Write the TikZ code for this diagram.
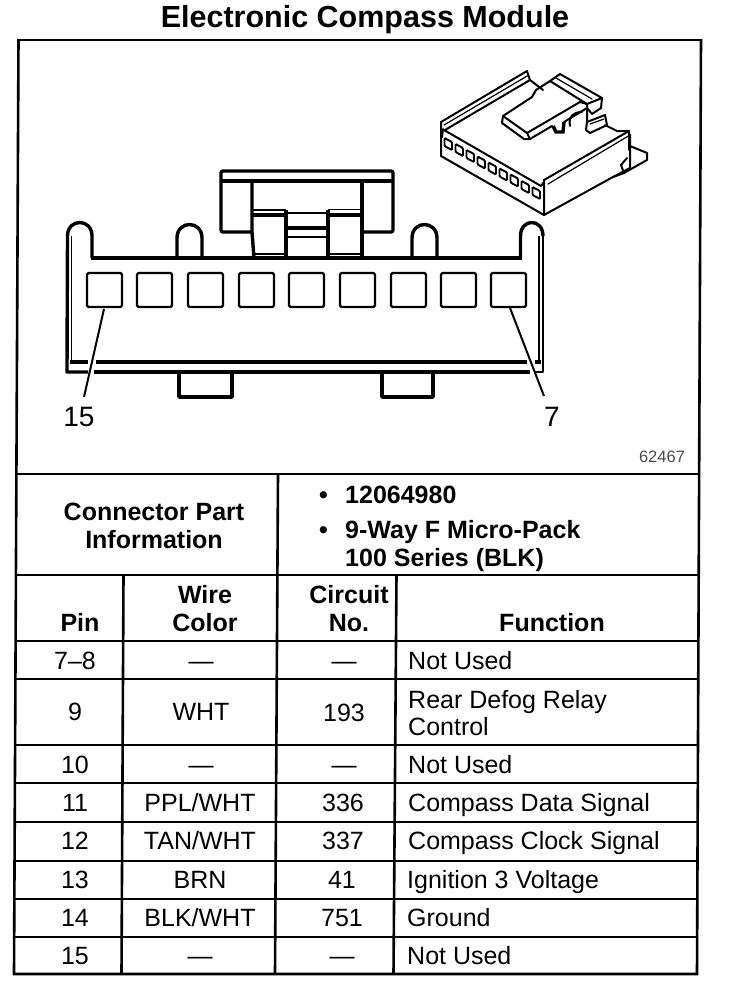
\documentclass[tikz,border=0pt]{standalone}
\usepackage{fontspec}
\setmainfont{Liberation Sans}
\tikzset{
  x=1pt,y=-1pt,
  frameline/.style={line width=2.6pt},
  conn/.style={line width=3.4pt,line join=round},
  connthin/.style={line width=1.8pt,line join=round},
  pinbox/.style={line width=2.4pt,rounded corners=1.5pt},
  leader/.style={line width=2pt},
  iso/.style={line width=2pt,line join=round,line cap=round},
  isothin/.style={line width=1.2pt,line join=round,line cap=round},
  celltxt/.style={inner sep=0pt,anchor=base,font=\fontsize{25}{27}\selectfont},
  fntxt/.style={inner sep=0pt,anchor=base west,font=\fontsize{25}{27}\selectfont},
  headtxt/.style={inner sep=0pt,font=\bfseries\fontsize{25}{27.5}\selectfont,align=center},
  headbase/.style={inner sep=0pt,anchor=base west,font=\bfseries\fontsize{25}{27.5}\selectfont},
  labeltxt/.style={inner sep=0pt,anchor=base,font=\fontsize{28}{30}\selectfont},
}
\begin{document}
\begin{tikzpicture}
\useasboundingbox (0,0) rectangle (736,994);
% title
\node[inner sep=0pt,anchor=base,font=\bfseries\fontsize{30.5}{32}\selectfont] (title) at (365,27) {Electronic Compass Module};
% frame (slightly skewed scan)
\draw[frameline] (18.5,40) -- (701,40);
\draw[frameline] (18.5,39) -- (14,974) -- (697,974) -- (701,39);
\foreach \yy/\xa/\xb in {474/16.5/699,575/16/698.5,641/15.5/698,679/15.5/698,745/15/698,783/15/698,822/14.5/697.5,861/14.5/697.5,899/14/697.5,937/14/697}
  \draw[frameline] (\xa,\yy) -- (\xb,\yy);
% table verticals
\draw[frameline] (278,474) -- (275,974);
\draw[frameline] (123.5,575) -- (121.5,974);
\draw[frameline] (396.5,575) -- (393.5,974);
% main connector view
\draw[conn] (92,258) -- (92,236) .. controls (92,218) and (67.5,218) .. (67.5,236) -- (67,372) -- (88,372);
\draw[connthin] (71.5,362) -- (71.5,236);
\draw[conn] (90.5,258) -- (522,258);
\draw[conn] (520.5,258) -- (520.5,236) .. controls (520.5,218) and (543,218) .. (543,236);
\draw[connthin] (543,234) -- (543,372) -- (534,372);
\draw[connthin] (539,236) -- (539,362);
\draw[conn] (177,258) -- (177,238) .. controls (177,220) and (202,220) .. (202,238) -- (202,258);
\draw[conn] (412,258) -- (412,238) .. controls (412,220) and (437,220) .. (437,238) -- (437,258);
\draw[conn] (70,362) -- (88,362) (96,362) -- (527,362) (535,362) -- (541,362);
\draw[conn] (94,372) -- (530,372);
\draw[conn] (179,372) |- (232,397) -- (232,372);
\draw[conn] (382,372) |- (433,397) -- (433,372);
% pins
\foreach \n/\xx in {1/87,2/137,3/188,4/239,5/289,6/340,7/391,8/441,9/491}
  \draw[pinbox] (\xx,273) rectangle ++(35,34);
% leaders and labels
\node[labeltxt] (p15) at (79,426) {15};
\node[labeltxt] (p7) at (552,426) {7};
\coordinate (l15) at (104,309);
\coordinate (l7) at (510,308);
\draw[leader] (l15) -- (84,397);
\draw[leader] (l7) -- (544,396);
% latch
\draw[conn,rounded corners=2pt] (252,232) -- (221,232) -- (221,171) -- (393,171) -- (393,232) -- (362,232);
\draw[line width=4pt] (221,180.5) -- (393,180.5);
\draw[conn] (252,180) -- (252,232) -- (254,258);
\draw[conn] (362,180) -- (362,258);
\draw[conn] (252,215) -- (286,215) (286,210) -- (286,258);
\draw[conn] (362,215) -- (328,215) (328,210) -- (328,258);
\draw[connthin] (252,210) -- (286,210) (328,209.5) -- (362,209.5);
\draw[connthin] (286,213) -- (328,213);
\draw[conn] (286,228) -- (328,228);
\draw[connthin] (286,237) -- (328,237);
\draw[connthin] (254,254) -- (286,254) (328,254) -- (362,254);
% isometric view
\draw[iso] (441,122) -- (441,156) -- (544,215) -- (544,180) -- (629,131) -- (629,150);
\draw[iso] (441,122) -- (527,71) -- (530,80) -- (445,130);
\draw[isothin] (444,125) -- (528,75.5);
\draw[iso] (443,129) -- (442,137) (444,130) -- (541,186) -- (544,182);
\draw[iso] (544,215) -- (613,177) -- (630,168) -- (630,135);
\draw[isothin] (548,184) -- (630,135);
\draw[iso] (630,146) -- (647,153) -- (647,160) -- (624,173) -- (621,165) -- (627,158);
\draw[iso] (613,177) -- (624,173);
% holes
\foreach \xa/\ya in {444.5/138,455.5/144,466.5/150,477.5/156.5,488.5/162.5,499.5/168.5,510.5/174.5,521.5/181,532.5/187}
  \draw[line width=1.9pt,rounded corners=1pt] (\xa,\ya) -- ++(7.5,4) -- ++(0,8) -- ++(-7.5,-4) -- cycle;
% paddle and latch
\draw[iso] (530,80) -- (543,90);
\draw[iso] (532,97) -- (536,90) -- (550,81);
\draw[iso] (532,97) -- (503,116) -- (502,123) -- (524,139) -- (530,139) -- (552,126);
\draw[iso] (503,116) -- (527,133) -- (530,139);
\draw[iso] (527,133) -- (580,102);
\draw[iso] (550,81) -- (560,74) -- (602,98) -- (601,108) -- (592,114) -- (587,108);
\draw[iso] (550,81) -- (587,104) -- (602,98);
\draw[isothin] (556,78) -- (592,99);
\draw[iso] (580,102) -- (587,104) -- (587,122);
\draw[line width=3.4pt] (553,126) -- (556,132) -- (563,132) -- (564,122);
\draw[iso] (564,122) -- (587,108);
\draw[iso] (570,126) .. controls (568,116) and (574,112) .. (582,112);
\draw[iso] (587,122) -- (605,115) -- (607,125) -- (590,133) -- (586,130) -- cycle;
\draw[isothin] (590,124) -- (604,119);
\draw[iso] (605,125) -- (617,131) -- (629,131);
% small number
\node[inner sep=0pt,font=\fontsize{16.5}{18}\selectfont,text=black!70] (num) at (662,457) {62467};
% table text
\node[headtxt] (cpi) at (154,526) {Connector Part\\Information};
\node[headbase] (b1) at (345,503) {12064980};
\node[headbase] (b2a) at (345,538) {9-Way F Micro-Pack};
\node[headbase] (b2b) at (345,566) {100 Series (BLK)};
\node[headbase] (b1d) at (319,503) {•};
\node[headbase] (b2d) at (319,538) {•};
\node[headtxt,anchor=base] (hp) at (80,631) {Pin};
\node[headtxt,anchor=base] (hw1) at (205,603) {Wire};
\node[headtxt,anchor=base] (hw2) at (205,631) {Color};
\node[headtxt,anchor=base] (hc1) at (349,603) {Circuit};
\node[headtxt,anchor=base] (hc2) at (349,631) {No.};
\node[headtxt,anchor=base] (hf) at (552,631) {Function};
\node[celltxt] (r1p) at (75,669) {7–8};
\node[celltxt] (r1w) at (201,669) {—};
\node[celltxt] (r1c) at (344,669) {—};
\node[fntxt] (r1f) at (408,669) {Not Used};
\node[celltxt] (r2p) at (75,720) {9};
\node[celltxt] (r2w) at (201,720) {WHT};
\node[celltxt] (r2c) at (344,721) {193};
\node[fntxt] (r2f) at (408,708) {Rear Defog Relay};
\node[fntxt] (r2g) at (408,735) {Control};
\node[celltxt] (r3p) at (75,773) {10};
\node[celltxt] (r3w) at (201,773) {—};
\node[celltxt] (r3c) at (344,773) {—};
\node[fntxt] (r3f) at (408,773) {Not Used};
\node[celltxt] (r4p) at (75,811) {11};
\node[celltxt] (r4w) at (200,811) {PPL/WHT};
\node[celltxt] (r4c) at (343,811) {336};
\node[fntxt] (r4f) at (408,811) {Compass Data Signal};
\node[celltxt] (r5p) at (75,849) {12};
\node[celltxt] (r5w) at (200,849) {TAN/WHT};
\node[celltxt] (r5c) at (343,849) {337};
\node[fntxt] (r5f) at (408,849) {Compass Clock Signal};
\node[celltxt] (r6p) at (75,888) {13};
\node[celltxt] (r6w) at (200,888) {BRN};
\node[celltxt] (r6c) at (342,888) {41};
\node[fntxt] (r6f) at (407,888) {Ignition 3 Voltage};
\node[celltxt] (r7p) at (75,926) {14};
\node[celltxt] (r7w) at (200,926) {BLK/WHT};
\node[celltxt] (r7c) at (342,926) {751};
\node[fntxt] (r7f) at (407,926) {Ground};
\node[celltxt] (r8p) at (75,964) {15};
\node[celltxt] (r8w) at (200,964) {—};
\node[celltxt] (r8c) at (342,964) {—};
\node[fntxt] (r8f) at (407,964) {Not Used};
\end{tikzpicture}
\end{document}
